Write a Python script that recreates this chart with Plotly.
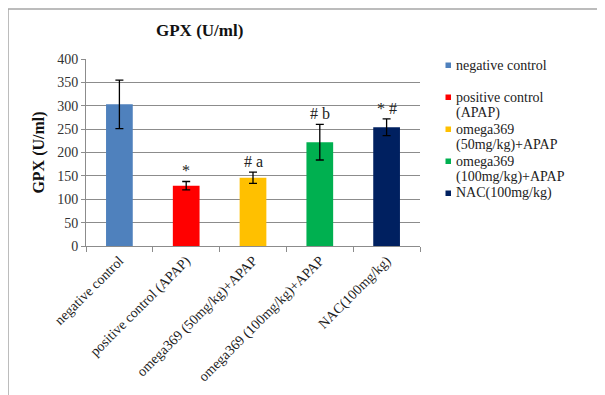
import plotly.graph_objects as go

categories = ["negative control", "positive control (APAP)", "omega369 (50mg/kg)+APAP",
              "omega369 (100mg/kg)+APAP", "NAC(100mg/kg)"]
gpx_mean = [303, 129, 146, 222, 254]
gpx_err = [52, 9, 12, 38, 18]
sig_labels = ["", "*", "# a", "# b", "* #"]
colors = ["#4F81BD", "#FF0000", "#FFC000", "#00B050", "#002060"]
legend_labels = [["negative control", ""], ["positive control", "(APAP)"],
                 ["omega369", "(50mg/kg)+APAP"], ["omega369", "(100mg/kg)+APAP"],
                 ["NAC(100mg/kg)"]]
y_ticks = [0, 50, 100, 150, 200, 250, 300, 350, 400]

OFF = 8  # page body margin
W, H = 605 - OFF, 395 - OFF
L, T = 86 - OFF, 59 - OFF
R, B = 185, 149
PW, PH = W - L - R, H - T - B
FONT = "Liberation Serif"
GRAY = "#8C8C8C"

def px_x(px):
    return (px - OFF - L) / PW

def px_y(py):
    return (H - B - (py - OFF)) / PH

fig = go.Figure()
fig.add_trace(go.Bar(
    x=categories, y=gpx_mean, width=0.4,
    marker=dict(color=colors, line=dict(width=0)),
    error_y=dict(type="data", array=gpx_err, visible=True, color="black",
                 thickness=1.3, width=4),
    showlegend=False,
))

annotations = []
for c, m, e, s in zip(categories, gpx_mean, gpx_err, sig_labels):
    if s:
        annotations.append(dict(x=c, y=m + e, xref="x", yref="y", text=s,
                                showarrow=False, yanchor="bottom", yshift=0,
                                font=dict(family=FONT, size=16, color="#222")))

# legend drawn as text lines with colour squares
shapes = []
line_h = 16
y0 = 65
k = 0
for lab, col in zip(legend_labels, colors):
    cy = y0 + k * line_h
    shapes.append(dict(type="rect", xref="paper", yref="paper",
                       x0=px_x(445.5), x1=px_x(451), y0=px_y(cy - 2.5), y1=px_y(cy + 3),
                       fillcolor=col, line=dict(width=0)))
    for ln in lab:
        if ln:
            annotations.append(dict(x=px_x(454), y=px_y(y0 + k * line_h), xref="paper", yref="paper",
                                    text=ln, showarrow=False, xanchor="left", yanchor="middle",
                                    font=dict(family=FONT, size=14, color="#222")))
        k += 1

# outer frame
shapes.append(dict(type="line", xref="paper", yref="paper", x0=px_x(8), x1=px_x(605),
                   y0=px_y(9), y1=px_y(9), line=dict(color="#A6A6A6", width=1.5)))
shapes.append(dict(type="line", xref="paper", yref="paper", x0=px_x(8), x1=px_x(8),
                   y0=px_y(9), y1=px_y(395), line=dict(color="#A6A6A6", width=1.5)))

fig.update_layout(
    width=W, height=H,
    margin=dict(l=L, r=R, t=T, b=B, autoexpand=False),
    paper_bgcolor="white", plot_bgcolor="white",
    title=dict(text="GPX (U/ml)", x=(199.7 - OFF) / W, xref="container", xanchor="center",
               y=1 - (30 - OFF) / H, yref="container", yanchor="middle",
               font=dict(family=FONT, size=17, color="#111", weight="bold")),
    font=dict(family=FONT, size=14, color="#333"),
    annotations=annotations,
    shapes=shapes,
)
fig.update_xaxes(
    showline=True, linecolor=GRAY, linewidth=1,
    ticks="outside", tickson="boundaries", ticklen=5, tickcolor=GRAY,
    tickangle=-45, tickfont=dict(family=FONT, size=14, color="#222"),
    showgrid=False, automargin=False,
)
fig.update_yaxes(
    range=[0, 400], tickvals=y_ticks,
    showline=True, linecolor=GRAY, linewidth=1,
    ticks="outside", ticklen=4, tickcolor=GRAY,
    showgrid=True, gridcolor=GRAY, gridwidth=1, zeroline=False,
    tickfont=dict(family=FONT, size=14, color="#333"),
    title=dict(text="GPX (U/ml)", standoff=8,
               font=dict(family=FONT, size=16, color="#111", weight="bold")),
    automargin=False,
)

fig.write_html("out.html")
